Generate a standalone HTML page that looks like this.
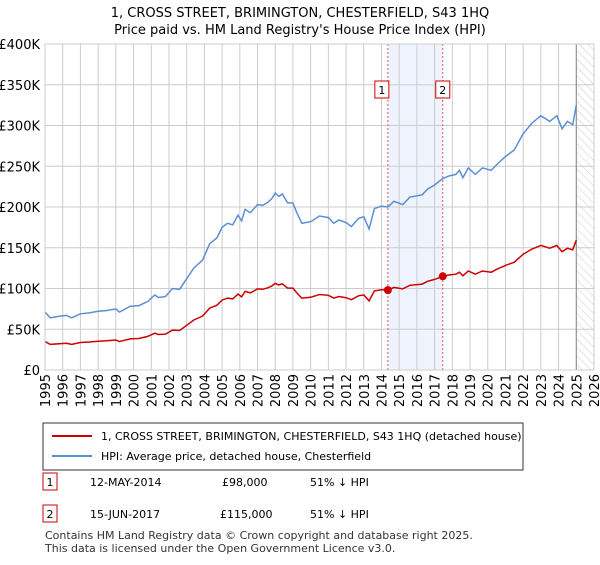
<!DOCTYPE html>
<html><head><meta charset="utf-8"><style>
body{margin:0;background:#fff;font-family:"Liberation Sans",sans-serif;}
text{font-family:"DejaVu Sans","Liberation Sans",sans-serif;}
</style></head><body>
<svg width="600" height="560" xmlns="http://www.w3.org/2000/svg">
<defs><pattern id="hatch" width="6" height="6" patternUnits="userSpaceOnUse" patternTransform="rotate(-45)"><line x1="0" y1="0" x2="0" y2="6" stroke="#ccc" stroke-width="1"/></pattern></defs>
<text x="300" y="17" text-anchor="middle" font-size="13">1, CROSS STREET, BRIMINGTON, CHESTERFIELD, S43 1HQ</text>
<text x="300" y="34" text-anchor="middle" font-size="13">Price paid vs. HM Land Registry's House Price Index (HPI)</text>
<g id="plot"></g>
<rect x="43" y="423" width="480" height="47" fill="#fff" stroke="#333"/>
<line x1="52" y1="436" x2="92" y2="436" stroke="#cc0000" stroke-width="2"/>
<text x="101" y="440" font-size="11">1, CROSS STREET, BRIMINGTON, CHESTERFIELD, S43 1HQ (detached house)</text>
<line x1="52" y1="456" x2="92" y2="456" stroke="#5b8fd4" stroke-width="2"/>
<text x="101" y="460" font-size="11">HPI: Average price, detached house, Chesterfield</text>
<rect x="43" y="473" width="14" height="17" fill="#fff" stroke="#cc0000"/>
<text x="50" y="486" font-size="11" text-anchor="middle">1</text>
<text x="90" y="486" font-size="11">12-MAY-2014</text>
<text x="222" y="486" font-size="11">£98,000</text>
<text x="310" y="486" font-size="11">51% ↓ HPI</text>
<rect x="43" y="505" width="14" height="17" fill="#fff" stroke="#cc0000"/>
<text x="50" y="518" font-size="11" text-anchor="middle">2</text>
<text x="90" y="518" font-size="11">15-JUN-2017</text>
<text x="220" y="518" font-size="11">£115,000</text>
<text x="310" y="518" font-size="11">51% ↓ HPI</text>
<text x="45" y="539" font-size="11" fill="#333">Contains HM Land Registry data © Crown copyright and database right 2025.</text>
<text x="45" y="552" font-size="11" fill="#333">This data is licensed under the Open Government Licence v3.0.</text>
</svg>
<script>
const dates=[1995.0,1995.3,1995.8,1996.2,1996.5,1997.0,1997.5,1998.0,1998.5,1999.0,1999.2,1999.8,2000.3,2000.8,2001.2,2001.4,2001.8,2002.2,2002.6,2003.0,2003.4,2003.9,2004.3,2004.7,2005.0,2005.3,2005.6,2005.9,2006.1,2006.3,2006.6,2007.0,2007.3,2007.6,2007.8,2008.0,2008.2,2008.4,2008.7,2009.0,2009.2,2009.5,2010.0,2010.5,2011.0,2011.3,2011.6,2012.0,2012.3,2012.7,2013.0,2013.3,2013.6,2014.0,2014.36,2014.7,2015.2,2015.6,2016.3,2016.6,2017.0,2017.46,2017.8,2018.2,2018.4,2018.6,2018.9,2019.3,2019.7,2020.2,2020.5,2021.0,2021.5,2022.0,2022.5,2023.0,2023.5,2023.9,2024.2,2024.5,2024.8,2025.0];
const hpiValues=[71,64,66,67,64,69,70,72,73,75,71,78,79,84,92,89,90,100,99,112,125,135,155,162,175,180,178,190,183,197,193,203,202,206,210,217,213,216,205,205,194,180,182,189,187,180,184,181,176,186,188,173,198,201,200,207,203,212,215,222,227,235,238,240,245,236,248,240,248,245,252,262,270,290,303,312,305,312,296,305,301,325];
const priceValues=[34.8,31.4,32.3,32.8,31.4,33.8,34.3,35.3,35.8,36.8,34.8,38.2,38.7,41.2,45.1,43.6,44.1,49,48.5,54.9,61.3,66.2,76,79.4,85.8,88.2,87.2,93.1,89.7,96.5,94.6,99.5,99,101,102.9,106.3,104.4,105.8,100.5,100.5,95.1,88.2,89.2,92.6,91.6,88.2,90.2,88.7,86.2,91.1,92.1,84.8,97,98.5,98,101.4,99.5,103.9,105.4,108.8,111.2,115,116.6,117.6,120,115.6,121.5,117.6,121.5,120,123.5,128.4,132.3,142.1,148.5,152.9,149.5,152.9,145,149.5,147.5,159.3];
const saleDates=[2014.36,2017.46];
const saleValues=[98,115];
const saleLabels=["1","2"];
const yTicks=[0,50,100,150,200,250,300,350,400];
const yTickLabels=["£0","£50K","£100K","£150K","£200K","£250K","£300K","£350K","£400K"];
const xTicks=[1995,1996,1997,1998,1999,2000,2001,2002,2003,2004,2005,2006,2007,2008,2009,2010,2011,2012,2013,2014,2015,2016,2017,2018,2019,2020,2021,2022,2023,2024,2025,2026];
const NS="http://www.w3.org/2000/svg";
const L=45,R=594,T=44,B=370;
const xS=v=>L+(v-1995)/(2026-1995)*(R-L);
const yS=v=>B-v/400*(B-T);
const g=document.getElementById('plot');
function mk(tag,attrs){const e=document.createElementNS(NS,tag);for(const k in attrs)e.setAttribute(k,attrs[k]);g.appendChild(e);return e;}
let e;
e=mk('rect',{x:xS(saleDates[0]),y:T,width:xS(saleDates[1])-xS(saleDates[0]),height:B-T,fill:'#eef3fd'});


e=mk('rect',{x:xS(2025.0),y:T,width:R-xS(2025.0),height:B-T,fill:'url(#hatch)'});


xTicks.forEach((t,i)=>{
 e=mk('line',{x1:xS(t),x2:xS(t),y1:T,y2:B,stroke:'#ccc','stroke-width':1});
 
 
 e=mk('text',{x:0,y:0,'font-size':13,'text-anchor':'end',transform:`translate(${xS(t)+5},${B+4}) rotate(-90)`});
 e.textContent=t;
 
 
});
yTicks.forEach((t,i)=>{
 e=mk('line',{x1:L,x2:R,y1:yS(t),y2:yS(t),stroke:'#ccc','stroke-width':1});
 
 
 e=mk('text',{x:40,y:yS(t)+5,'font-size':13,'text-anchor':'end'});
 e.textContent=yTickLabels[i];
 
 
});
e=mk('line',{x1:xS(2025.0),x2:xS(2025.0),y1:T,y2:B,stroke:'#888','stroke-width':1});


saleDates.forEach((d,i)=>{
 e=mk('line',{x1:xS(d),x2:xS(d),y1:T,y2:B,stroke:'#e05555','stroke-width':1,'stroke-dasharray':'2,2'});
 
 
});
const pts=a=>dates.map((d,i)=>xS(d).toFixed(1)+','+yS(a[i]).toFixed(1)).join(' ');
e=mk('polyline',{points:pts(hpiValues),fill:'none',stroke:'#5b8fd4','stroke-width':1.5});


e=mk('polyline',{points:pts(priceValues),fill:'none',stroke:'#cc0000','stroke-width':1.5});


saleDates.forEach((d,i)=>{
 e=mk('circle',{cx:xS(d),cy:yS(saleValues[i]),r:4,fill:'#cc0000'});
 
 
 e=mk('rect',{x:xS(d)-7-(i===0?6:0),y:81,width:14,height:17,fill:'#fff',stroke:'#cc0000'});
 
 
 e=mk('text',{x:xS(d)-(i===0?6:0),y:94,'font-size':11,'text-anchor':'middle'});
 e.textContent=saleLabels[i];
 
 
});
e=mk('rect',{x:L,y:T,width:R-L,height:B-T,fill:'none',stroke:'#ccc'});


</script>
</body></html>
